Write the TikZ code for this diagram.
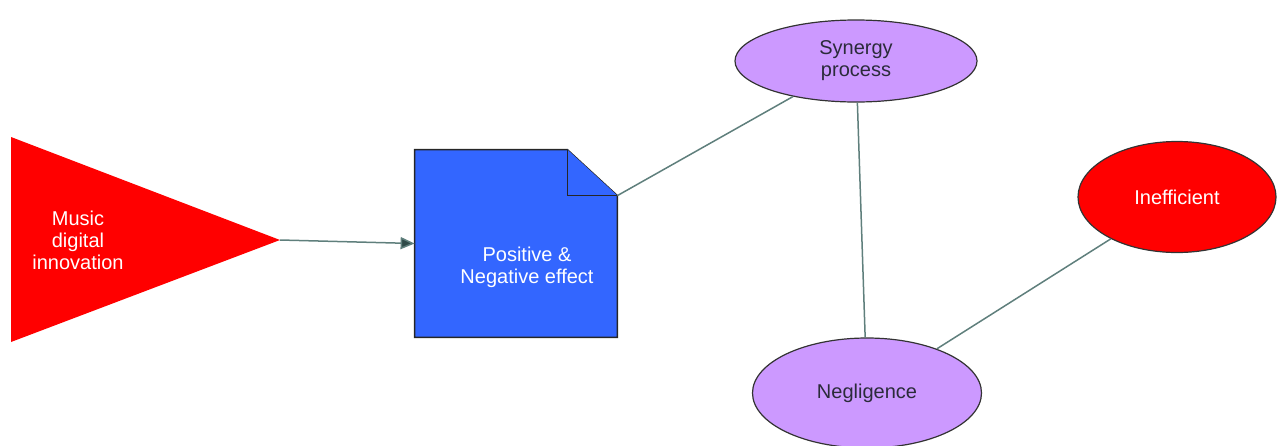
\documentclass[tikz,border=0pt]{standalone}
\usepackage{fontspec}
\setmainfont{Liberation Sans}
\usepackage{tikz}
\usetikzlibrary{shapes.geometric, arrows.meta}

\definecolor{linkgray}{HTML}{5F7F7C}
\definecolor{tipgray}{HTML}{2F4A48}
\definecolor{docblue}{HTML}{3366FF}
\definecolor{lilac}{HTML}{CC99FF}
\definecolor{darktext}{HTML}{2B2B3A}

\begin{document}
\begin{tikzpicture}[x=0.5pt, y=-0.5pt, inner sep=0pt,
	every node/.style={font=\fontsize{10}{11}\selectfont, align=center},
	link/.style={draw=linkgray, line width=0.75pt},
	arrowlink/.style={link, -{Triangle[length=7pt, width=6pt, fill=tipgray]}},
	docline/.style={draw=black!85, line width=0.7pt, fill=docblue},
	oval/.style={ellipse, draw=black!80, line width=0.6pt},
	whitetxt/.style={text=white},
	darktxt/.style={text=darktext}]
	\useasboundingbox (0,0) rectangle (1279,445);

  	\fill[red] (11,137) -- (280,240) -- (11,342) -- cycle;
  	\coordinate (apex) at (280,240);
  	\node[whitetxt] (music) at (78,240) {Music\\digital\\innovation};

  	\node[minimum width=101pt, minimum height=93.5pt] (doc) at (516,243.5) {};
  	\draw[docline] (doc.south west) -- (doc.north west) -- ([xshift=-25pt]doc.north east) -- ([yshift=-23pt]doc.north east) -- (doc.south east) -- cycle;
  	\draw[docline] ([xshift=-25pt]doc.north east) -- ([xshift=-25pt, yshift=-23pt]doc.north east) -- ([yshift=-23pt]doc.north east);
  	\coordinate (fold) at ([yshift=-23pt]doc.north east);
  	\node[whitetxt] (doctxt) at (527,267) {Positive \&\\Negative effect};

  	\node[oval, fill=lilac, darktxt, minimum width=121pt, minimum height=41pt] (syn) at (856,61) {Synergy\\process};
  	\node[oval, fill=lilac, darktxt, minimum width=114.5pt, minimum height=55pt] (neg) at (867,393) {Negligence};
  	\node[oval, fill=red, whitetxt, minimum width=99pt, minimum height=55.5pt] (ineff) at (1177,197) {Inefficient};

  	\draw[arrowlink] (apex) -- (doc.west);
  	\draw[link] (fold) -- (syn);
  	\draw[link] (syn) -- (neg);
  	\draw[link] (neg) -- (ineff);
\end{tikzpicture}
\end{document}
